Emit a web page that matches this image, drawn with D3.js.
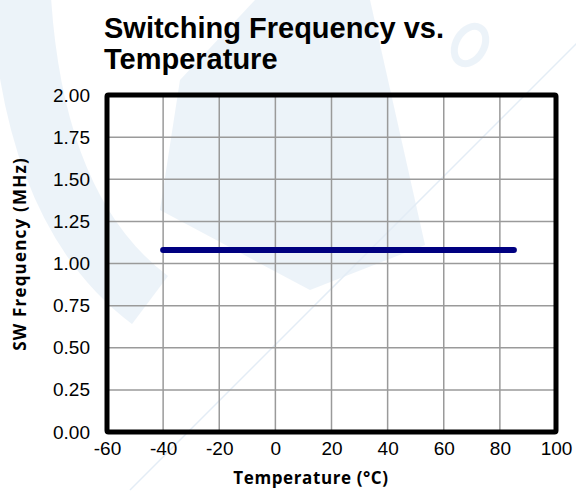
<!DOCTYPE html>
<html>
<head>
<meta charset="utf-8">
<script src="https://cdn.jsdelivr.net/npm/d3@7"></script>
<style>
  html, body { margin: 0; padding: 0; background: #fff; }
  svg { display: block; }
</style>
</head>
<body>
<div id="chart"></div>
<script>
// ---- data ----
const temperature = [-40, -20, 0, 25, 50, 85];
const swFrequency = [1.08, 1.08, 1.08, 1.08, 1.08, 1.08];
const xTicks = [-60, -40, -20, 0, 20, 40, 60, 80, 100];
const yTicks = [0, 0.25, 0.5, 0.75, 1.0, 1.25, 1.5, 1.75, 2.0];
const titleLines = ["Switching Frequency vs.", "Temperature"];
const xTitle = "Temperature (°C)";
const yTitle = "SW Frequency (MHz)";

const W = 576, H = 494;
const pL = 107, pR = 556, pT = 95, pB = 432;

const svg = d3.select("#chart").append("svg").attr("width", W).attr("height", H);

// faint watermark
const wm = svg.append("g").attr("opacity", 0.5);
wm.append("path").attr("d", "M 20 -20 Q 30 210 150 300")
  .attr("fill", "none").attr("stroke", "#dbe8f4").attr("stroke-width", 60);
wm.append("path").attr("d", "M 255 0 L 370 0 L 425 245 L 310 290 L 160 210 L 180 80 Z")
  .attr("fill", "#dbe8f4");
wm.append("path").attr("d", "M 630 -10 L 130 490")
  .attr("fill", "none").attr("stroke", "#c9dcee").attr("stroke-width", 1.5);
wm.append("ellipse").attr("cx", 470).attr("cy", 45).attr("rx", 14).attr("ry", 20)
  .attr("transform", "rotate(30,470,45)")
  .attr("fill", "none").attr("stroke", "#dbe8f4").attr("stroke-width", 7);

const x = d3.scaleLinear().domain([-60, 100]).range([pL, pR]);
const y = d3.scaleLinear().domain([0, 2]).range([pB, pT]);

// grid
svg.append("g").selectAll("line").data(xTicks.slice(1, -1)).join("line")
  .attr("x1", d => x(d)).attr("x2", d => x(d)).attr("y1", pT).attr("y2", pB)
  .attr("stroke", "#9a9a9a").attr("stroke-width", 1.5);
svg.append("g").selectAll("line").data(yTicks.slice(1, -1)).join("line")
  .attr("y1", d => y(d)).attr("y2", d => y(d)).attr("x1", pL).attr("x2", pR)
  .attr("stroke", "#9a9a9a").attr("stroke-width", 1.5);

// data line
svg.append("path").datum(temperature.map((t, i) => [t, swFrequency[i]]))
  .attr("fill", "none").attr("stroke", "#000080").attr("stroke-width", 6)
  .attr("stroke-linecap", "round")
  .attr("d", d3.line().x(d => x(d[0])).y(d => y(d[1])));

// frame
svg.append("rect").attr("x", pL).attr("y", pT)
  .attr("width", pR - pL).attr("height", pB - pT)
  .attr("fill", "none").attr("stroke", "#000").attr("stroke-width", 5)
  .attr("rx", 1.5);

// axes
const xAxis = svg.append("g").attr("transform", `translate(0,${pB})`)
  .call(d3.axisBottom(x).tickValues(xTicks).tickSize(0).tickPadding(10).tickFormat(d => String(d)));
xAxis.select(".domain").remove();
xAxis.selectAll("text").attr("font-family", "'Liberation Sans', Arial, sans-serif")
  .attr("font-size", 19).attr("fill", "#000");

const yAxis = svg.append("g").attr("transform", `translate(${pL},0)`)
  .call(d3.axisLeft(y).tickValues(yTicks).tickSize(0).tickPadding(17).tickFormat(d3.format(".2f")));
yAxis.select(".domain").remove();
yAxis.selectAll("text").attr("font-family", "'Liberation Sans', Arial, sans-serif")
  .attr("font-size", 19).attr("fill", "#000");

// titles
const t = svg.append("text").attr("font-family", "'Liberation Sans', Arial, sans-serif")
  .attr("font-weight", "bold").attr("font-size", 29).attr("fill", "#000");
titleLines.forEach((s, i) => t.append("tspan").attr("x", 104).attr("y", 38 + i * 31).text(s));

svg.append("text").attr("x", 311).attr("y", 484).attr("text-anchor", "middle")
  .attr("font-family", "'Open Sans', sans-serif").attr("font-weight", "bold")
  .attr("font-size", 17).attr("letter-spacing", 0.6).text(xTitle);

svg.append("text").attr("transform", "translate(26,254) rotate(-90)").attr("text-anchor", "middle")
  .attr("font-family", "'Open Sans', sans-serif").attr("font-weight", "bold")
  .attr("font-size", 17).attr("letter-spacing", 1.2).text(yTitle);
</script>
</body>
</html>
